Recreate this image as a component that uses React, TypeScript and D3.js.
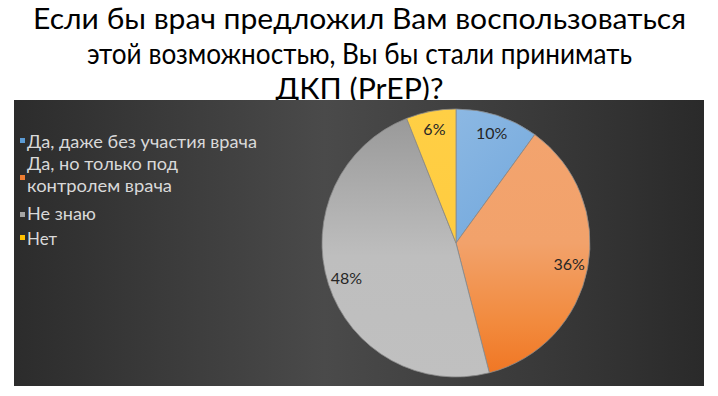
import React from "react";
import * as d3 from "d3";

const titleLines = [
  "Если бы врач предложил Вам воспользоваться",
  "этой возможностью, Вы бы стали принимать",
  "ДКП (PrEP)?",
];
const categories = [
  "Да, даже без участия врача",
  "Да, но только под контролем врача",
  "Не знаю",
  "Нет",
];
const legendLines = [
  ["Да, даже без участия врача"],
  ["Да, но только под", "контролем врача"],
  ["Не знаю"],
  ["Нет"],
];
const values = [10, 36, 48, 6];
const legendColors = ["#5b9bd5", "#ed7d31", "#a5a5a5", "#ffc000"];

const W = 718;
const H = 396;
const cx = 456;
const cy = 243;
const R = 134;

export default function App() {
  const pie = d3.pie<number>().sort(null).value((d) => d)(values);
  const arc = d3.arc<d3.PieArcDatum<number>>().innerRadius(0).outerRadius(R);
  const labelArc = d3
    .arc<d3.PieArcDatum<number>>()
    .innerRadius(R * 0.86)
    .outerRadius(R * 0.86);
  const total = d3.sum(values);
  const fills = ["url(#gBlue)", "url(#gOrange)", "url(#gGray)", "url(#gYellow)"];
  const titleWidths = [653, 545, 168];
  const titleBase = [29, 64, 99];
  const legendY = [148, 170, 220, 245];
  const markerY = [138, 175, 212, 235];
  const legendWidths = [[230], [151, 145], [69], [30]];
  const fontTitle = "Lato, 'Open Sans', sans-serif";

  return (
    <svg
      width={W}
      height={H}
      style={{ position: "absolute", left: 0, top: 0, background: "#fff" }}
    >
      <defs>
        <linearGradient id="bg" x1="0" y1="0" x2="1" y2="0">
          <stop offset="0" stopColor="#2c2c2c" />
          <stop offset="0.45" stopColor="#4a4a4a" />
          <stop offset="0.75" stopColor="#3a3a3a" />
          <stop offset="1" stopColor="#2a2a2a" />
        </linearGradient>
        <linearGradient id="gBlue" gradientUnits="userSpaceOnUse" x1={0} y1={-R} x2={R * 0.7} y2={-R * 0.3}>
          <stop offset="0" stopColor="#8cb8e3" />
          <stop offset="1" stopColor="#74a9dd" />
        </linearGradient>
        <linearGradient id="gOrange" gradientUnits="userSpaceOnUse" x1={0} y1={-R} x2={0} y2={R}>
          <stop offset="0" stopColor="#f3a46f" />
          <stop offset="0.5" stopColor="#f2a26b" />
          <stop offset="0.8" stopColor="#f28a3d" />
          <stop offset="1" stopColor="#f07522" />
        </linearGradient>
        <linearGradient id="gGray" gradientUnits="userSpaceOnUse" x1={0} y1={-R} x2={0} y2={R}>
          <stop offset="0" stopColor="#979797" />
          <stop offset="0.55" stopColor="#bebebe" />
          <stop offset="1" stopColor="#c0c0c0" />
        </linearGradient>
        <linearGradient id="gYellow" gradientUnits="userSpaceOnUse" x1={0} y1={-R} x2={0} y2={0}>
          <stop offset="0" stopColor="#ffcf45" />
          <stop offset="1" stopColor="#ffcc40" />
        </linearGradient>
      </defs>

      {titleLines.map((t, i) => (
        <text
          key={i}
          x={359.5}
          y={titleBase[i]}
          textAnchor="middle"
          fontFamily={fontTitle}
          fontSize={29}
          fill="#000"
          textLength={titleWidths[i]}
          lengthAdjust="spacingAndGlyphs"
        >
          {t}
        </text>
      ))}

      <rect x={14} y={100} width={690} height={286} fill="url(#bg)" />

      <g transform={`translate(${cx},${cy})`}>
        {pie.map((p, i) => (
          <path key={i} d={arc(p) || ""} fill={fills[i]} stroke="#8a8a8a" strokeWidth={0.8} />
        ))}
        {pie.map((p, i) => {
          const [lx, ly] = labelArc.centroid(p);
          return (
            <text
              key={i}
              x={lx}
              y={ly}
              dy="0.35em"
              textAnchor="middle"
              fontFamily="Lato, 'Open Sans', sans-serif"
              fontSize={16}
              fill="#262626"
            >
              {`${Math.round((p.data / total) * 100)}%`}
            </text>
          );
        })}
      </g>

      {categories.map((c, i) => (
        <g key={c}>
          <rect x={20} y={markerY[i]} width={5} height={5} fill={legendColors[i]} />
          {legendLines[i].map((ln, j) => (
            <text
              key={j}
              x={27}
              y={legendY[i] + j * 22}
              fontFamily="Lato, 'Open Sans', sans-serif"
              fontSize={17}
              fill="#d9d9d9"
              textLength={legendWidths[i][j]}
              lengthAdjust="spacingAndGlyphs"
            >
              {ln}
            </text>
          ))}
        </g>
      ))}
    </svg>
  );
}
